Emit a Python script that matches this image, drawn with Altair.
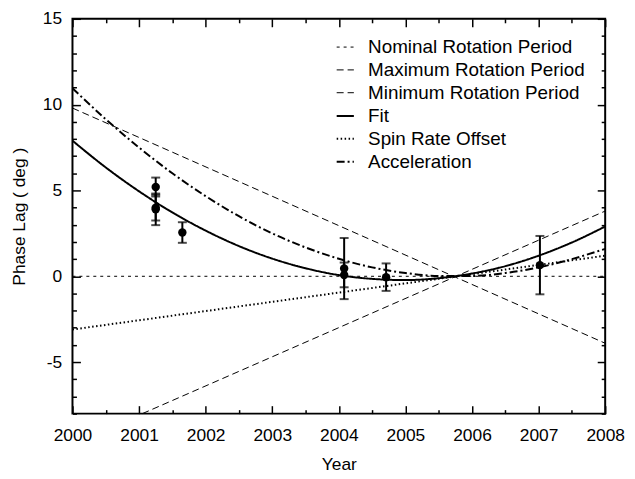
import altair as alt
import pandas as pd

# ---------------- data ----------------
series_names = [
    "Nominal Rotation Period",
    "Maximum Rotation Period",
    "Minimum Rotation Period",
    "Fit",
    "Spin Rate Offset",
    "Acceleration",
]

# straight lines: end points
nominal_year = [2000.0, 2008.0]
nominal_lag = [0.0, 0.0]
max_year = [2000.0, 2008.0]
max_lag = [9.8, -3.9]
min_year = [2001.05, 2008.0]
min_lag = [-8.0, 3.8]
spin_year = [2000.0, 2008.0]
spin_lag = [-3.1, 1.2]

# curves sampled every half year
curve_year = [2000.0, 2000.5, 2001.0, 2001.5, 2002.0, 2002.5, 2003.0, 2003.5, 2004.0,
              2004.5, 2005.0, 2005.5, 2006.0, 2006.5, 2007.0, 2007.5, 2008.0]
fit_lag = [7.9, 6.34, 4.95, 3.72, 2.66, 1.76, 1.03, 0.47, 0.07,
           -0.15, -0.22, -0.11, 0.16, 0.59, 1.2, 1.97, 2.9]
accel_lag = [10.95, 9.15, 7.5, 6.0, 4.67, 3.5, 2.5, 1.68, 1.02,
             0.52, 0.19, 0.02, 0.02, 0.19, 0.52, 1.0, 1.6]

# observations with error bars
obs_year = [2001.25, 2001.25, 2001.25, 2001.65, 2004.08, 2004.08, 2004.71, 2007.02]
obs_lag = [5.2, 4.0, 3.9, 2.55, 0.45, 0.08, -0.05, 0.65]
obs_err = [0.55, 0.75, 0.92, 0.6, 1.78, 0.72, 0.8, 1.7]

# axis ticks
x_major = [2000, 2001, 2002, 2003, 2004, 2005, 2006, 2007, 2008]
x_minor = [2000.5, 2001.5, 2002.5, 2003.5, 2004.5, 2005.5, 2006.5, 2007.5]
y_major = [-5, 0, 5, 10, 15]
y_minor = [-8, -7, -6, -4, -3, -2, -1, 1, 2, 3, 4, 6, 7, 8, 9, 11, 12, 13, 14]

# ---------------- tables ----------------
rows = []
for name, xs_, ys_ in [
    (series_names[0], nominal_year, nominal_lag),
    (series_names[1], max_year, max_lag),
    (series_names[2], min_year, min_lag),
    (series_names[3], curve_year, fit_lag),
    (series_names[4], spin_year, spin_lag),
    (series_names[5], curve_year, accel_lag),
]:
    for a, b in zip(xs_, ys_):
        rows.append({"year": a, "lag": b, "series": name})
lines_df = pd.DataFrame(rows)

obs_df = pd.DataFrame({"year": obs_year, "lag": obs_lag, "err": obs_err})
obs_df["lo"] = obs_df["lag"] - obs_df["err"]
obs_df["hi"] = obs_df["lag"] + obs_df["err"]

W, H = 537, 398
FONT = "Liberation Sans"

xs = alt.Scale(domain=[2000, 2008], nice=False, zero=False)
ys = alt.Scale(domain=[-8, 15], nice=False, zero=False)

x_main = alt.Axis(values=x_major, labelExpr="'' + datum.value", tickSize=0, labelPadding=13,
                  labelFlush=False, title="Year", titlePadding=12, domain=False, grid=False)
y_main = alt.Axis(values=y_major, labelExpr="'' + datum.value", tickSize=0, labelPadding=11,
                  labelFlush=False, title="Phase Lag ( deg )", titlePadding=14, domain=False, grid=False)

dash_range = [[3, 4], [7, 4], [7, 4], [1, 0], [1.5, 2.5], [8, 3, 2, 3]]
width_range = [1, 1, 1, 2, 2, 2]

leg = alt.Legend(title=None, orient="none", legendX=265, legendY=19,
                 symbolType="stroke", symbolSize=300, symbolStrokeColor="black",
                 labelFont=FONT, labelFontSize=19, labelColor="black", labelLimit=0,
                 labelOffset=13, rowPadding=3, padding=0)

lines = alt.Chart(lines_df).mark_line(color="black", interpolate="monotone").encode(
    x=alt.X("year:Q", scale=xs, axis=x_main),
    y=alt.Y("lag:Q", scale=ys, axis=y_main),
    detail="series:N",
    strokeDash=alt.StrokeDash("series:N", scale=alt.Scale(domain=series_names, range=dash_range), legend=leg),
    strokeWidth=alt.StrokeWidth("series:N", scale=alt.Scale(type="ordinal", domain=series_names, range=width_range), legend=leg),
)

bars = alt.Chart(obs_df).mark_rule(color="black", strokeWidth=2).encode(
    x=alt.X("year:Q", scale=xs, axis=x_main),
    y=alt.Y("lo:Q", scale=ys, axis=y_main),
    y2="hi:Q",
)
cap_lo = alt.Chart(obs_df).mark_tick(color="black", orient="horizontal", size=9, thickness=2).encode(
    x=alt.X("year:Q", scale=xs, axis=x_main),
    y=alt.Y("lo:Q", scale=ys, axis=y_main),
)
cap_hi = alt.Chart(obs_df).mark_tick(color="black", orient="horizontal", size=9, thickness=2).encode(
    x=alt.X("year:Q", scale=xs, axis=x_main),
    y=alt.Y("hi:Q", scale=ys, axis=y_main),
)
dots = alt.Chart(obs_df).mark_circle(color="black", size=72, opacity=1).encode(
    x=alt.X("year:Q", scale=xs, axis=x_main),
    y=alt.Y("lag:Q", scale=ys, axis=y_main),
)

data_layer = alt.layer(lines, bars, cap_lo, cap_hi, dots)


def tick_layer(x_orient, y_orient, xv, yv, size):
    return alt.Chart(obs_df).mark_point(opacity=0).encode(
        x=alt.X("year:Q", scale=xs,
                axis=alt.Axis(orient=x_orient, offset=-H, values=xv, tickSize=size, tickWidth=1.5,
                              tickColor="black", labels=False, domain=False, grid=False, title=None)),
        y=alt.Y("lag:Q", scale=ys,
                axis=alt.Axis(orient=y_orient, offset=-W, values=yv, tickSize=size, tickWidth=1.5,
                              tickColor="black", labels=False, domain=False, grid=False, title=None)),
    )


t1 = tick_layer("top", "right", x_major, y_major, 8)
t2 = tick_layer("top", "right", x_minor, y_minor, 4)
t3 = tick_layer("bottom", "left", x_major, y_major, 8)
t4 = tick_layer("bottom", "left", x_minor, y_minor, 4)

chart = alt.layer(data_layer, t1, t2, t3, t4).resolve_scale(
    x="independent", y="independent"
).properties(
    width=W, height=H,
    autosize=alt.AutoSizeParams(type="none"),
    padding={"left": 65, "top": 9, "right": 22, "bottom": 62},
).configure_view(
    stroke="black", strokeWidth=2
).configure_axis(
    labelFont=FONT, labelFontSize=17.5, labelColor="black",
    titleFont=FONT, titleFontSize=17.5, titleColor="black", titleFontWeight="normal",
)

chart.save("out.html", embed_options={"renderer": "svg", "actions": False})
